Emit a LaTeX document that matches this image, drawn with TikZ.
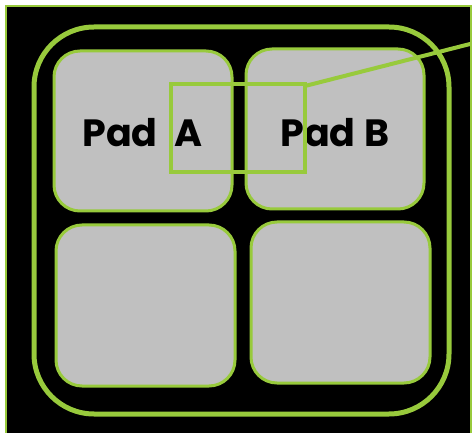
\documentclass[tikz,border=0pt]{standalone}
\usepackage{fontspec}
\setmainfont{Poppins}
\definecolor{lime}{RGB}{152,202,60}
\definecolor{padgray}{RGB}{192,192,192}
\begin{document}
\begin{tikzpicture}[x=1pt,y=-1pt,
  frame/.style={draw=lime,line width=2pt,fill=black},
  outer/.style={draw=lime,line width=5pt,rounded corners=60pt},
  pad/.style={draw=lime,line width=3pt,fill=padgray,rounded corners=26pt},
  zoombox/.style={draw=lime,line width=4pt},
  lbl/.style={font=\bfseries\fontsize{38}{38}\selectfont,text=black,inner sep=0pt}]
\useasboundingbox (0,0) rectangle (472,433);
\fill[white] (0,0) rectangle (472,433);
\draw[frame] (6,6) rectangle (471,445);
\draw[outer] (34,27) rectangle (449,414);
\draw[pad] (54,51) rectangle (232,211);
\draw[pad] (246,49) rectangle (424,209);
\draw[pad] (56,225) rectangle (235,386);
\draw[pad] (251,222) rectangle (430,383);
\node[lbl] (la) at (142.5,133) {Pad\hspace{17pt}A};
\node[lbl] (lb) at (335,133) {Pad\hspace{9pt}B};
\draw[zoombox] (171,84) rectangle (305,172);
\coordinate (c1) at (305,86);
\coordinate (c2) at (474,43);
\draw[lime,line width=4pt] (c1) -- (c2);
\end{tikzpicture}
\end{document}
